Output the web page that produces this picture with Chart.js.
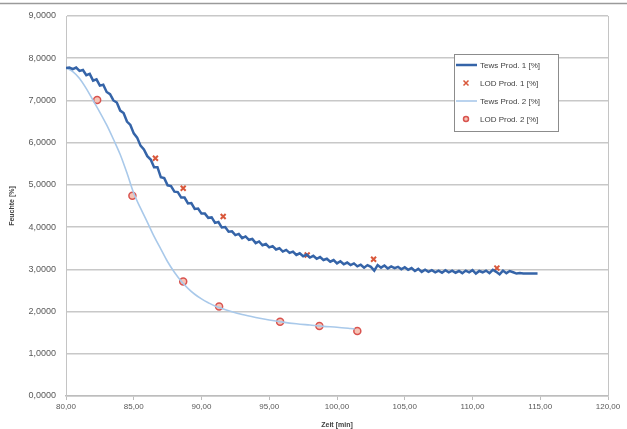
<!DOCTYPE html>
<html>
<head>
<meta charset="utf-8">
<script src="https://cdn.jsdelivr.net/npm/chart.js@4"></script>
<style>
  html, body { margin: 0; padding: 0; background: #fff; }
  #wrap { width: 627px; height: 429px; position: relative; }
</style>
</head>
<body>
<div id="wrap"><canvas id="feuchteChart" width="627" height="429"></canvas></div>
<script>
// Trocknungsverlauf - Tews-Messung vs. LOD-Proben

const xTicks = [80, 85, 90, 95, 100, 105, 110, 115, 120];
const yTicks = [0, 1, 2, 3, 4, 5, 6, 7, 8, 9];

// Tews Prod. 1 (verrauschte Messkurve) [Zeit, Feuchte]
const tews1 = [
  [80.00, 7.77], [80.25, 7.78], [80.50, 7.74], [80.75, 7.78], [81.00, 7.70], [81.25, 7.72],
  [81.50, 7.60], [81.75, 7.63], [82.00, 7.47], [82.25, 7.50], [82.50, 7.35], [82.75, 7.37],
  [83.00, 7.20], [83.25, 7.15], [83.50, 7.00], [83.75, 6.95], [84.00, 6.76], [84.25, 6.70],
  [84.50, 6.50], [84.75, 6.42], [85.00, 6.22], [85.25, 6.12], [85.50, 5.93], [85.75, 5.84],
  [86.00, 5.68], [86.25, 5.60], [86.50, 5.42], [86.75, 5.42], [87.00, 5.18], [87.25, 5.16],
  [87.50, 4.99], [87.75, 4.97], [88.00, 4.84], [88.25, 4.83], [88.50, 4.70], [88.75, 4.70],
  [89.00, 4.56], [89.25, 4.57], [89.50, 4.43], [89.75, 4.44], [90.00, 4.32], [90.25, 4.32],
  [90.50, 4.22], [90.75, 4.23], [91.00, 4.10], [91.25, 4.12], [91.50, 3.99], [91.75, 4.00],
  [92.00, 3.89], [92.25, 3.90], [92.50, 3.81], [92.75, 3.84], [93.00, 3.74], [93.25, 3.78],
  [93.50, 3.70], [93.75, 3.72], [94.00, 3.62], [94.25, 3.66], [94.50, 3.57], [94.75, 3.60],
  [95.00, 3.52], [95.25, 3.55], [95.50, 3.47], [95.75, 3.50], [96.00, 3.42], [96.25, 3.46],
  [96.50, 3.39], [96.75, 3.42], [97.00, 3.34], [97.25, 3.38], [97.50, 3.31], [97.75, 3.35],
  [98.00, 3.28], [98.25, 3.32], [98.50, 3.25], [98.75, 3.29], [99.00, 3.22], [99.25, 3.25],
  [99.50, 3.18], [99.75, 3.22], [100.00, 3.14], [100.25, 3.19], [100.50, 3.12], [100.75, 3.16],
  [101.00, 3.10], [101.25, 3.14], [101.50, 3.07], [101.75, 3.11], [102.00, 3.04], [102.25, 3.10],
  [102.50, 3.06], [102.75, 2.97], [103.00, 3.10], [103.25, 3.04], [103.50, 3.09], [103.75, 3.02],
  [104.00, 3.07], [104.25, 3.03], [104.50, 3.06], [104.75, 3.00], [105.00, 3.05], [105.25, 2.99],
  [105.50, 3.03], [105.75, 2.96], [106.00, 3.01], [106.25, 2.94], [106.50, 2.99], [106.75, 2.94],
  [107.00, 2.98], [107.25, 2.93], [107.50, 2.97], [107.75, 2.92], [108.00, 2.98], [108.25, 2.93],
  [108.50, 2.97], [108.75, 2.92], [109.00, 2.96], [109.25, 2.91], [109.50, 2.97], [109.75, 2.93],
  [110.00, 2.98], [110.25, 2.90], [110.50, 2.96], [110.75, 2.93], [111.00, 2.97], [111.25, 2.91],
  [111.50, 2.99], [111.75, 2.94], [112.00, 2.88], [112.25, 2.97], [112.50, 2.91], [112.75, 2.96],
  [113.00, 2.93], [113.25, 2.90], [113.50, 2.91], [113.75, 2.90], [114.00, 2.90], [114.25, 2.90],
  [114.50, 2.90], [114.80, 2.90]
];

// LOD Prod. 1
const lod1 = [[86.6, 5.63], [88.65, 4.92], [91.6, 4.25], [97.8, 3.34], [102.7, 3.24], [111.8, 3.03]];

// Tews Prod. 2 (glatte Kurve)
const tews2 = [
  [80.0, 7.77], [80.5, 7.68], [81.0, 7.52], [81.5, 7.28], [82.0, 7.00], [82.5, 6.72],
  [83.0, 6.42], [83.5, 6.08], [84.0, 5.72], [84.5, 5.28], [85.0, 4.80], [85.5, 4.45],
  [86.0, 4.12], [86.5, 3.78], [87.0, 3.48], [87.5, 3.18], [88.0, 2.93], [88.5, 2.72],
  [89.0, 2.55], [89.5, 2.41], [90.0, 2.30], [90.5, 2.21], [91.0, 2.13], [92.0, 2.02],
  [93.0, 1.93], [94.0, 1.86], [95.0, 1.80], [96.0, 1.75], [97.0, 1.71], [98.0, 1.68],
  [99.0, 1.65], [100.0, 1.63], [101.0, 1.60], [101.3, 1.59]
];

// LOD Prod. 2
const lod2 = [[82.3, 7.01], [84.9, 4.74], [88.65, 2.71], [91.3, 2.12], [95.8, 1.76], [98.7, 1.66], [101.5, 1.54]];

function toXY(arr) {
  return arr.map(function(p) { return { x: p[0], y: p[1] }; });
}

// Rahmen + Legende im Diagrammbereich (Chart.js kann das nicht direkt)
const rahmenPlugin = {
  id: 'rahmen',
  beforeDraw: function(chart) {
    const c = chart.ctx;
    c.save();
    c.strokeStyle = '#9a9a9a';
    c.lineWidth = 1.5;
    c.beginPath();
    c.moveTo(0, 3.5);
    c.lineTo(627, 3.5);
    c.stroke();
    c.restore();
  },
  afterDatasetsDraw: function(chart) {
    const c = chart.ctx;
    const a = chart.chartArea;
    c.save();
    c.strokeStyle = '#c4c4c4';
    c.lineWidth = 1;
    c.beginPath();
    c.moveTo(Math.round(a.right) + 0.5, a.top);
    c.lineTo(Math.round(a.right) + 0.5, a.bottom);
    c.stroke();

    // Legende
    const lx = 454, ly = 54, lw = 104, lh = 77;
    c.fillStyle = '#fff';
    c.fillRect(lx, ly, lw, lh);
    c.strokeStyle = '#8c8c8c';
    c.lineWidth = 1;
    c.strokeRect(lx + 0.5, ly + 0.5, lw, lh);
    c.font = '8px "Liberation Sans", Arial, sans-serif';
    c.textBaseline = 'middle';
    c.textAlign = 'left';
    const rows = [65, 83, 101, 119];
    chart.data.datasets.forEach(function(ds, i) {
      const y = rows[i];
      if (ds.showLine === false) {
        const r = 2.5;
        c.lineWidth = 1.5;
        c.strokeStyle = ds.borderColor;
        c.fillStyle = ds.backgroundColor;
        if (ds.pointStyle === 'crossRot') {
          c.beginPath();
          c.moveTo(466 - r, y - r); c.lineTo(466 + r, y + r);
          c.moveTo(466 + r, y - r); c.lineTo(466 - r, y + r);
          c.stroke();
        } else {
          c.beginPath();
          c.arc(466, y, r, 0, Math.PI * 2);
          c.fill();
          c.stroke();
        }
      } else {
        c.strokeStyle = ds.borderColor;
        c.lineWidth = ds.borderWidth;
        c.beginPath();
        c.moveTo(456, y);
        c.lineTo(477, y);
        c.stroke();
      }
      c.fillStyle = '#404040';
      c.fillText(ds.label, 480, y + 0.5);
    });
    c.restore();
  }
};

const ctx = document.getElementById('feuchteChart');
const feuchteChart = new Chart(ctx, {
  type: 'scatter',
  data: {
    datasets: [
      {
        label: 'Tews Prod. 1 [%]',
        data: toXY(tews1),
        showLine: true,
        borderColor: '#3564a8',
        borderWidth: 2.5,
        pointRadius: 0,
        tension: 0
      },
      {
        label: 'LOD Prod. 1 [%]',
        data: toXY(lod1),
        showLine: false,
        pointStyle: 'crossRot',
        pointRadius: 3.5,
        borderWidth: 2,
        borderColor: '#d9573a',
        backgroundColor: '#f2b49e'
      },
      {
        label: 'Tews Prod. 2 [%]',
        data: toXY(tews2),
        showLine: true,
        borderColor: '#a9c9ea',
        borderWidth: 1.6,
        pointRadius: 0,
        cubicInterpolationMode: 'monotone'
      },
      {
        label: 'LOD Prod. 2 [%]',
        data: toXY(lod2),
        showLine: false,
        pointStyle: 'circle',
        pointRadius: 3.5,
        borderWidth: 1.5,
        borderColor: '#d9534f',
        backgroundColor: '#f6c4b6'
      }
    ]
  },
  options: {
    responsive: false,
    animation: false,
    layout: { padding: { left: 0, right: 19, top: 16, bottom: 0 } },
    plugins: {
      legend: { display: false },
      tooltip: { enabled: false }
    },
    scales: {
      x: {
        type: 'linear',
        min: 80,
        max: 120,
        afterBuildTicks: function(scale) {
          scale.ticks = xTicks.map(function(v) { return { value: v }; });
        },
        afterFit: function(scale) { scale.height = 33; },
        grid: { drawOnChartArea: false, drawTicks: true, tickLength: 4, color: '#bdbdbd' },
        border: { color: '#bdbdbd', width: 1.5 },
        ticks: {
          padding: 2,
          color: '#595959',
          font: { family: '"Liberation Sans", Arial, sans-serif', size: 8 },
          maxRotation: 0,
          callback: function(v) { return v.toFixed(2).replace('.', ','); }
        },
        title: {
          display: true,
          text: 'Zeit [min]',
          color: '#404040',
          padding: { top: 2, bottom: 0 },
          font: { family: '"Liberation Sans", Arial, sans-serif', size: 7, weight: 'bold' }
        }
      },
      y: {
        min: 0,
        max: 9,
        afterBuildTicks: function(scale) {
          scale.ticks = yTicks.map(function(v) { return { value: v }; });
        },
        afterFit: function(scale) { scale.width = 66; },
        grid: { color: '#c8c8c8', lineWidth: 1.5, drawTicks: false },
        border: { color: '#c4c4c4', width: 1 },
        ticks: {
          padding: 10,
          color: '#595959',
          font: { family: '"Liberation Sans", Arial, sans-serif', size: 9 },
          callback: function(v) { return v.toFixed(4).replace('.', ','); }
        },
        title: {
          display: true,
          text: 'Feuchte [%]',
          color: '#404040',
          padding: { top: 8, bottom: 2 },
          font: { family: '"Liberation Sans", Arial, sans-serif', size: 7, weight: 'bold' }
        }
      }
    }
  },
  plugins: [rahmenPlugin]
});
console.log('Diagramm fertig', feuchteChart.chartArea);
</script>
</body>
</html>
